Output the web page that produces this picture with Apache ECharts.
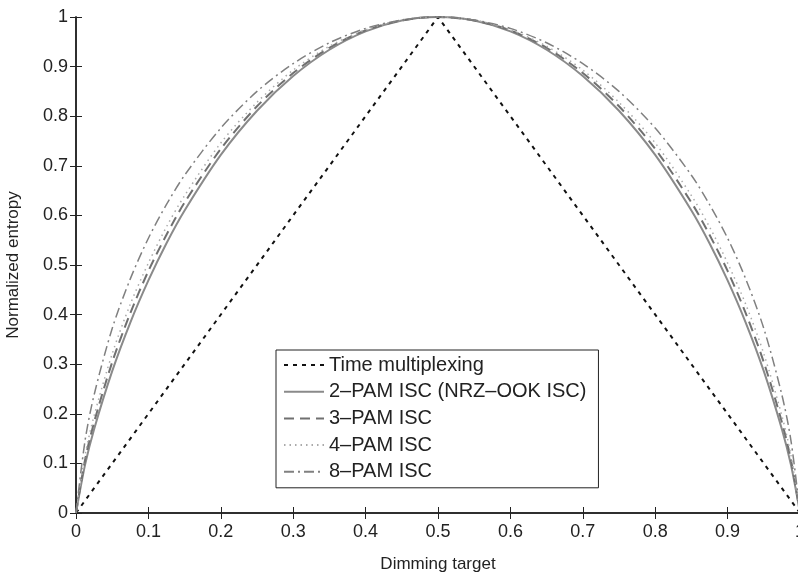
<!DOCTYPE html>
<html>
<head>
<meta charset="utf-8">
<script src="https://cdn.jsdelivr.net/npm/echarts@6/dist/echarts.min.js"></script>
<style>
  html, body { margin: 0; padding: 0; background: #fff; }
  #chart { width: 798px; height: 576px; }
</style>
</head>
<body>
<div id="chart"></div>
<script>
// dimming target sample points (x)
const dimming = [0, 0.0125, 0.025, 0.05, 0.075, 0.1, 0.125, 0.15, 0.2, 0.25, 0.3, 0.35, 0.4, 0.45, 0.5,
  0.55, 0.6, 0.65, 0.7, 0.75, 0.8, 0.85, 0.875, 0.9, 0.925, 0.95, 0.975, 0.9875, 1]
// normalized entropy
const pam2 = [0, 0.097, 0.169, 0.286, 0.384, 0.469, 0.544, 0.610, 0.722, 0.811, 0.881, 0.934, 0.971, 0.993, 1,
  0.993, 0.971, 0.934, 0.881, 0.811, 0.722, 0.610, 0.544, 0.469, 0.384, 0.286, 0.169, 0.097, 0]
const pam3 = [0, 0.107, 0.183, 0.304, 0.403, 0.488, 0.561, 0.626, 0.734, 0.820, 0.887, 0.938, 0.973, 0.993, 1,
  0.993, 0.973, 0.938, 0.887, 0.820, 0.734, 0.626, 0.561, 0.488, 0.403, 0.304, 0.183, 0.107, 0]
const pam4 = [0, 0.116, 0.196, 0.321, 0.421, 0.504, 0.577, 0.640, 0.746, 0.828, 0.893, 0.941, 0.974, 0.994, 1,
  0.994, 0.974, 0.941, 0.893, 0.828, 0.746, 0.640, 0.577, 0.504, 0.421, 0.321, 0.196, 0.116, 0]
const pam8 = [0, 0.146, 0.238, 0.372, 0.472, 0.554, 0.622, 0.681, 0.776, 0.850, 0.906, 0.948, 0.977, 0.994, 1,
  0.994, 0.977, 0.948, 0.906, 0.850, 0.776, 0.681, 0.622, 0.554, 0.472, 0.372, 0.238, 0.146, 0]
const tmX = [0, 0.5, 1]
const tmY = [0, 1, 0]

const names = ['Time multiplexing', '2–PAM ISC (NRZ–OOK ISC)', '3–PAM ISC', '4–PAM ISC', '8–PAM ISC']

function pairs(xs, ys) {
  return xs.map((x, i) => [x, ys[i]])
}

const font = "'Liberation Sans', Arial, sans-serif"
const axisColor = '#222'

let myChart = echarts.init(document.getElementById('chart'), null, { renderer: 'canvas' })

let option = {
  animation: false,
  backgroundColor: '#fff',
  textStyle: { fontFamily: font },
  grid: { left: 76, top: 17, right: -2, bottom: 63, outerBoundsMode: 'none', containLabel: false },
  legend: {
    orient: 'vertical',
    left: 276,
    top: 350,
    padding: [5, 12, 6, 7],
    itemWidth: 40,
    itemHeight: 20,
    itemGap: 6.7,
    itemTextGap: 7,
    backgroundColor: '#fff',
    borderColor: '#222',
    borderWidth: 1,
    borderRadius: 0,
    itemStyle: { opacity: 0 },
    textStyle: { fontFamily: font, fontSize: 20, lineHeight: 20, color: '#222' },
    data: names
  },
  xAxis: [{
    type: 'value', min: 0, max: 1, interval: 0.1,
    name: 'Dimming target', nameLocation: 'middle', nameGap: 43,
    nameTextStyle: { fontFamily: font, fontSize: 17, color: '#222' },
    axisLine: { lineStyle: { color: axisColor, width: 1.5 } },
    axisTick: { inside: true, length: 6, lineStyle: { color: axisColor } },
    axisLabel: { fontFamily: font, fontSize: 18, color: '#222', margin: 10 },
    splitLine: { show: false }
  }, {
    type: 'value', min: 0, max: 1, interval: 0.1, position: 'top',
    axisLine: { lineStyle: { color: axisColor, width: 1.5 } },
    axisTick: { inside: true, length: 6, lineStyle: { color: axisColor } },
    axisLabel: { show: false },
    splitLine: { show: false }
  }],
  yAxis: [{
    type: 'value', min: 0, max: 1, interval: 0.1,
    name: 'Normalized entropy', nameLocation: 'middle', nameGap: 54, nameRotate: 90,
    nameTextStyle: { fontFamily: font, fontSize: 17, color: '#222' },
    axisLine: { show: true, lineStyle: { color: axisColor, width: 1.5 } },
    axisTick: { show: true, inside: true, length: 6, lineStyle: { color: axisColor } },
    axisLabel: { fontFamily: font, fontSize: 18, color: '#222', margin: 8 },
    splitLine: { show: false }
  }, {
    type: 'value', min: 0, max: 1, interval: 0.1, position: 'right',
    axisLine: { show: true, lineStyle: { color: axisColor, width: 1.5 } },
    axisTick: { show: true, inside: true, length: 6, lineStyle: { color: axisColor } },
    axisLabel: { show: false },
    splitLine: { show: false }
  }],
  series: [
    { name: names[0], type: 'line', symbol: 'none', data: pairs(tmX, tmY),
      lineStyle: { color: '#111', width: 2, type: [4, 5] }, itemStyle: { color: '#111' } },
    { name: names[1], type: 'line', symbol: 'none', smooth: 0.3, data: pairs(dimming, pam2),
      lineStyle: { color: '#8a8a8a', width: 2 }, itemStyle: { color: '#8a8a8a' } },
    { name: names[2], type: 'line', symbol: 'none', smooth: 0.3, data: pairs(dimming, pam3),
      lineStyle: { color: '#707070', width: 2, type: [10, 6] }, itemStyle: { color: '#707070' } },
    { name: names[3], type: 'line', symbol: 'none', smooth: 0.3, data: pairs(dimming, pam4),
      lineStyle: { color: '#aaaaaa', width: 1.5, type: [1.5, 4] }, itemStyle: { color: '#aaaaaa' } },
    { name: names[4], type: 'line', symbol: 'none', smooth: 0.3, data: pairs(dimming, pam8),
      lineStyle: { color: '#808080', width: 1.5, type: [10, 4, 2, 4] }, itemStyle: { color: '#808080' } }
  ]
}
myChart.setOption(option)
</script>
</body>
</html>
